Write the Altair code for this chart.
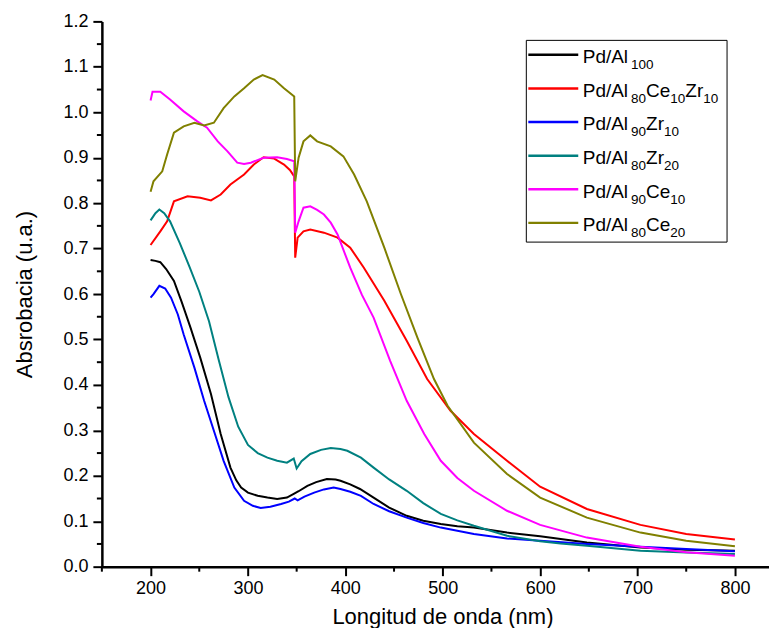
import altair as alt
import pandas as pd

# ---- data ----
series_names = ["Pd/Al100", "Pd/Al80Ce10Zr10", "Pd/Al90Zr10", "Pd/Al80Zr20", "Pd/Al90Ce10", "Pd/Al80Ce20"]
series_colors = ["#000000", "#ff0000", "#0000ff", "#008080", "#ff00ff", "#808000"]

black_x = [200, 205, 210, 216, 224, 232, 241, 251, 262, 272, 282, 288, 293, 300, 310, 320, 330, 340, 347, 352, 361, 370, 381, 390, 395, 405, 415, 429, 445, 463, 480, 498, 515, 532, 566, 600, 648, 703, 750, 800]
black_y = [0.675, 0.673, 0.670, 0.655, 0.629, 0.582, 0.526, 0.460, 0.380, 0.292, 0.218, 0.190, 0.174, 0.163, 0.156, 0.152, 0.149, 0.152, 0.160, 0.166, 0.178, 0.186, 0.193, 0.192, 0.189, 0.181, 0.171, 0.152, 0.130, 0.112, 0.101, 0.094, 0.089, 0.086, 0.075, 0.067, 0.053, 0.042, 0.037, 0.035]

red_x = [200, 210, 217, 224, 238, 251, 262, 272, 282, 296, 306, 316, 327, 337, 343, 347.5, 348.5, 351, 357, 364, 378, 392, 405, 419, 440, 463, 484, 508, 532, 566, 600, 648, 703, 750, 800]
red_y = [0.708, 0.738, 0.760, 0.804, 0.815, 0.812, 0.806, 0.819, 0.841, 0.863, 0.885, 0.901, 0.898, 0.885, 0.873, 0.859, 0.680, 0.724, 0.738, 0.742, 0.735, 0.724, 0.702, 0.658, 0.585, 0.497, 0.413, 0.343, 0.292, 0.233, 0.176, 0.127, 0.092, 0.072, 0.060]

blue_x = [200, 203, 209, 215, 221, 228, 234, 245, 255, 265, 275, 286, 296, 305, 313, 323, 334, 342, 348, 351, 358, 368, 378, 388, 395, 405, 416, 429, 445, 463, 480, 498, 532, 566, 600, 648, 703, 750, 800]
blue_y = [0.592, 0.600, 0.618, 0.612, 0.592, 0.555, 0.511, 0.438, 0.365, 0.299, 0.233, 0.174, 0.145, 0.134, 0.129, 0.132, 0.138, 0.143, 0.150, 0.146, 0.154, 0.163, 0.170, 0.174, 0.171, 0.165, 0.156, 0.138, 0.122, 0.108, 0.096, 0.086, 0.072, 0.062, 0.057, 0.050, 0.044, 0.039, 0.034]

teal_x = [200, 205, 209, 214, 220, 230, 240, 250, 260, 270, 280, 290, 300, 310, 320, 330, 340, 347, 350, 355, 364, 375, 385, 395, 402, 416, 429, 445, 463, 480, 498, 515, 532, 566, 600, 621, 648, 703, 750, 800]
teal_y = [0.762, 0.778, 0.786, 0.778, 0.760, 0.712, 0.660, 0.605, 0.540, 0.455, 0.373, 0.308, 0.268, 0.250, 0.240, 0.233, 0.229, 0.238, 0.216, 0.232, 0.248, 0.257, 0.261, 0.259, 0.255, 0.240, 0.218, 0.192, 0.167, 0.140, 0.116, 0.102, 0.090, 0.068, 0.056, 0.051, 0.046, 0.035, 0.031, 0.028]

magenta_x = [200, 202, 210, 220, 234, 248, 258, 269, 279, 289, 296, 303, 316, 330, 340, 347.5, 348.5, 352, 357, 364, 371, 378, 385, 392, 405, 417, 429, 446, 463, 481, 498, 515, 532, 566, 600, 648, 703, 750, 800]
magenta_y = [1.026, 1.045, 1.045, 1.028, 1.002, 0.980, 0.966, 0.936, 0.914, 0.889, 0.886, 0.889, 0.900, 0.901, 0.897, 0.892, 0.735, 0.760, 0.790, 0.793, 0.785, 0.775, 0.757, 0.731, 0.658, 0.598, 0.548, 0.453, 0.365, 0.292, 0.233, 0.195, 0.167, 0.123, 0.092, 0.064, 0.044, 0.032, 0.024]

olive_x = [200, 203, 212, 217, 224, 234, 245, 255, 265, 275, 286, 296, 306, 315, 327, 337, 347.5, 348.5, 352, 357, 364, 371, 385, 398, 409, 422, 440, 457, 474, 491, 505, 532, 566, 600, 648, 703, 750, 800]
olive_y = [0.825, 0.848, 0.870, 0.907, 0.955, 0.969, 0.977, 0.971, 0.977, 1.009, 1.035, 1.053, 1.072, 1.082, 1.072, 1.053, 1.035, 0.848, 0.900, 0.936, 0.949, 0.936, 0.925, 0.903, 0.863, 0.804, 0.702, 0.600, 0.504, 0.413, 0.354, 0.273, 0.204, 0.152, 0.108, 0.075, 0.057, 0.045]

x_ticks = [200, 300, 400, 500, 600, 700, 800]
x_minor = [150, 250, 350, 450, 550, 650, 750]
y_ticks = [0.0, 0.1, 0.2, 0.3, 0.4, 0.5, 0.6, 0.7, 0.8, 0.9, 1.0, 1.1, 1.2]
y_minor = [0.05, 0.15, 0.25, 0.35, 0.45, 0.55, 0.65, 0.75, 0.85, 0.95, 1.05, 1.15]

# legend labels: (text, is_subscript)
legend_parts = [
    [("Pd/Al", False), ("100", True)],
    [("Pd/Al", False), ("80", True), ("Ce", False), ("10", True), ("Zr", False), ("10", True)],
    [("Pd/Al", False), ("90", True), ("Zr", False), ("10", True)],
    [("Pd/Al", False), ("80", True), ("Zr", False), ("20", True)],
    [("Pd/Al", False), ("90", True), ("Ce", False), ("10", True)],
    [("Pd/Al", False), ("80", True), ("Ce", False), ("20", True)],
]

# ---- build tables ----
xs = [black_x, red_x, blue_x, teal_x, magenta_x, olive_x]
ys = [black_y, red_y, blue_y, teal_y, magenta_y, olive_y]
rows = []
for i, (name, sx, sy) in enumerate(zip(series_names, xs, ys)):
    for a, b in zip(sx, sy):
        rows.append({"wl": a, "abs": b, "serie": name, "ord": i})
df = pd.DataFrame(rows)

W, H = 668, 546
X_MAX = 835
FONT = "Liberation Sans"
MAIN_FS, SUB_FS = 19, 13.5
em = {"P": .667, "d": .556, "/": .278, "A": .667, "l": .222, "C": .722, "e": .556,
      "Z": .611, "r": .333}
def text_w(t, fs):
    return sum(em.get(ch, .556) for ch in t) * fs

leg_x0, leg_x1 = 425, 626
leg_y0, leg_y1 = 19, 221
sample_x0, sample_x1 = 427, 477
text_x0 = 481.5
row0, row_step = 33.5, 33.65

seg_rows, samp_rows = [], []
for i, parts in enumerate(legend_parts):
    cy = row0 + i * row_step
    samp_rows.append({"x0": sample_x0, "x1": sample_x1, "y": cy, "serie": series_names[i]})
    x = text_x0
    for j, (t, sub) in enumerate(parts):
        if sub and j == 1:
            x += 3
        fs = SUB_FS if sub else MAIN_FS
        seg_rows.append({"px": x, "py": cy + (14.4 if sub else 8.4), "t": t, "fs": fs})
        x += text_w(t, fs)
seg_df = pd.DataFrame(seg_rows)
samp_df = pd.DataFrame(samp_rows)

color_scale = alt.Scale(domain=series_names, range=series_colors)
x_scale = alt.Scale(domain=[150, X_MAX], nice=False, zero=False)
y_scale = alt.Scale(domain=[0, 1.2], nice=False)
x_axis = alt.Axis(values=x_ticks, format="d", tickSize=9,
                  title="Longitud de onda (nm)", titleX=341, titlePadding=9,
                  labelPadding=4)
y_axis = alt.Axis(values=y_ticks, format=".1f", tickSize=9,
                  title="Absrobacia (u.a.)", titlePadding=26, labelPadding=5)

lines = alt.Chart(df).mark_line(strokeWidth=2, clip=True).encode(
    x=alt.X("wl:Q", scale=x_scale, axis=x_axis),
    y=alt.Y("abs:Q", scale=y_scale, axis=y_axis),
    color=alt.Color("serie:N", scale=color_scale, legend=None),
    order=alt.Order("ord:Q"),
)

minor_y = alt.Chart(pd.DataFrame({"abs": y_minor})).mark_rule(color="#000000", strokeWidth=2).encode(
    y=alt.Y("abs:Q", scale=y_scale, axis=y_axis),
    x=alt.value(-5), x2=alt.value(0),
)
minor_x = alt.Chart(pd.DataFrame({"wl": x_minor})).mark_rule(color="#000000", strokeWidth=2).encode(
    x=alt.X("wl:Q", scale=x_scale, axis=x_axis),
    y=alt.value(H), y2=alt.value(H + 5),
)

box = alt.Chart(pd.DataFrame({"k": [0]})).mark_rect(fill="white", fillOpacity=0, stroke="#000000", strokeWidth=1).encode(
    x=alt.value(leg_x0), x2=alt.value(leg_x1), y=alt.value(leg_y0), y2=alt.value(leg_y1)
)

samples = alt.Chart(samp_df).mark_rule(strokeWidth=2.5).encode(
    x=alt.X("x0:Q", scale=None, axis=None), x2="x1:Q",
    y=alt.Y("y:Q", scale=None, axis=None),
    color=alt.Color("serie:N", scale=color_scale, legend=None),
)

texts = alt.Chart(seg_df).mark_text(align="left", baseline="alphabetic", font=FONT, color="#000000").encode(
    x=alt.X("px:Q", scale=None, axis=None),
    y=alt.Y("py:Q", scale=None, axis=None),
    text="t:N",
    size=alt.Size("fs:Q", scale=None, legend=None),
)

chart = alt.layer(lines, minor_y, minor_x, box, samples, texts).properties(
    width=W, height=H,
    padding={"left": 5, "top": 4, "right": 0, "bottom": 0},
).configure_view(stroke=None).configure_axis(
    grid=False,
    domainColor="#000000", domainWidth=2.5,
    tickColor="#000000", tickWidth=2,
    labelFont=FONT, labelFontSize=18, labelColor="#000000",
    titleFont=FONT, titleFontSize=22, titleFontWeight="normal", titleColor="#000000",
)

chart.save("out.html", embed_options={"renderer": "svg", "actions": False})
